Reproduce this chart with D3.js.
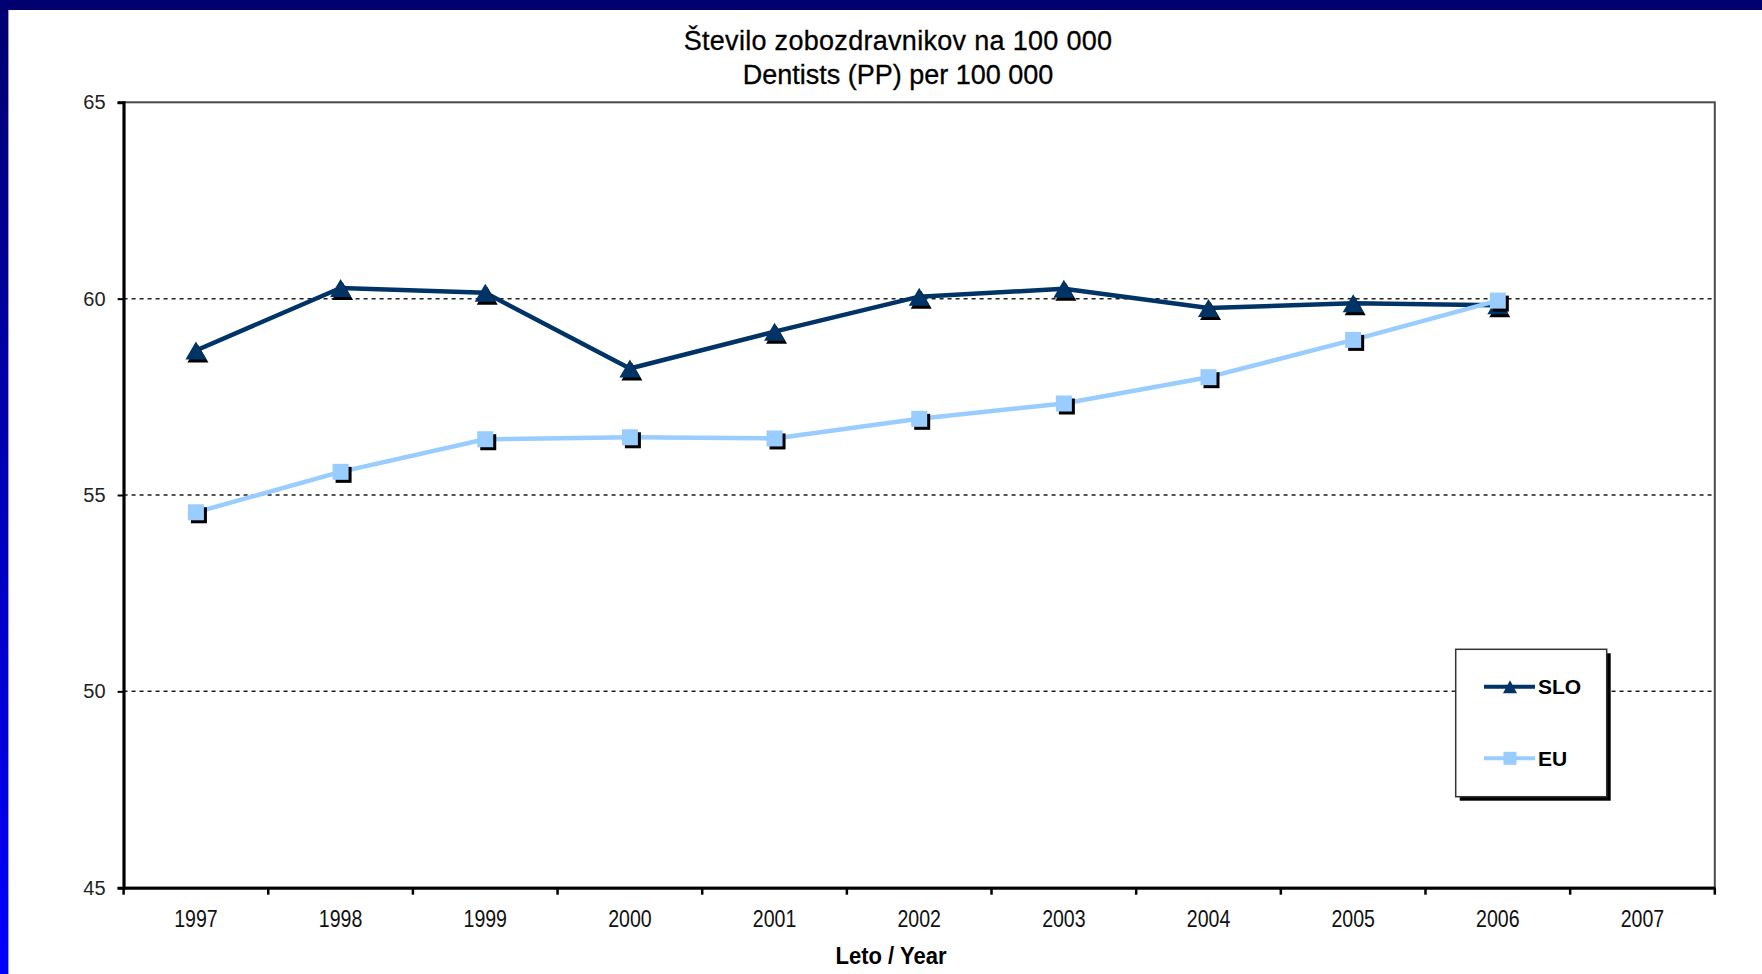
<!DOCTYPE html>
<html><head><meta charset="utf-8">
<script src="https://cdn.jsdelivr.net/npm/d3@7/dist/d3.min.js"></script>
<style>html,body{margin:0;padding:0;background:#fff;overflow:hidden}</style>
</head><body>
<svg id="c" width="1762" height="974" xmlns="http://www.w3.org/2000/svg"></svg>
<script>
// ---- data ----
const years = ["1997","1998","1999","2000","2001","2002","2003","2004","2005","2006","2007"];
const sloValues = [58.68, 60.27, 60.15, 58.22, 59.16, 60.05, 60.25, 59.76, 59.88, 59.83];
const euValues  = [54.56, 55.59, 56.42, 56.47, 56.44, 56.94, 57.33, 58.00, 58.95, 59.95];
const yTicks = [45, 50, 55, 60, 65];
const gridValues = [50, 55, 60];
const titleLines = ["Število zobozdravnikov na 100 000", "Dentists (PP) per 100 000"];
const xTitle = "Leto / Year";
const seriesNames = ["SLO", "EU"];

// ---- layout ----
const W = 1762, H = 974;
const L = 123.6, R = 1714.8, T = 102.3, B = 887.7;
const SLO_COLOR = "#003366", EU_COLOR = "#99CCFF";
const FONT = "'Liberation Sans', Arial, sans-serif";

const svg = d3.select("#c");
const defs = svg.append("defs");
const grad = defs.append("linearGradient").attr("id","lg").attr("x1",0).attr("y1",0).attr("x2",0).attr("y2",1);
grad.append("stop").attr("offset","0%").attr("stop-color","#000070");
grad.append("stop").attr("offset","100%").attr("stop-color","#0000FF");

svg.append("rect").attr("width",W).attr("height",H).attr("fill","#fff");
svg.append("rect").attr("x",0).attr("y",0).attr("width",8.4).attr("height",H).attr("fill","url(#lg)");
svg.append("rect").attr("x",0).attr("y",0).attr("width",W).attr("height",10).attr("fill","#000070");

const x = d3.scaleBand().domain(years).range([L, R]).padding(0);
const y = d3.scaleLinear().domain([45, 65]).range([B, T]);
const cx = d => x(d) + x.bandwidth() / 2;

// title
svg.append("g").selectAll("text").data(titleLines).join("text")
  .attr("x", 898).attr("y", (d,i) => 50 + i * 34)
  .attr("text-anchor","middle").attr("font-family",FONT).attr("font-size",27)
  .attr("letter-spacing",(d,i) => i === 0 ? 0.3 : 0)
  .attr("fill","#000").attr("stroke","#000").attr("stroke-width",0.3).text(d => d);

// gridlines
svg.append("g").selectAll("line").data(gridValues).join("line")
  .attr("x1", L).attr("x2", R).attr("y1", d => y(d)).attr("y2", d => y(d))
  .attr("stroke","#222").attr("stroke-width",1.5).attr("stroke-dasharray","4,4");

// plot frame (top/right)
svg.append("rect").attr("x",L).attr("y",T).attr("width",R-L).attr("height",B-T)
  .attr("fill","none").attr("stroke","#4a4a4a").attr("stroke-width",2);

// y axis
const yAxis = svg.append("g").attr("transform",`translate(${L},0)`)
  .call(d3.axisLeft(y).tickValues(yTicks).tickSize(6).tickPadding(12).tickFormat(d3.format("d")));
yAxis.select(".domain").attr("stroke","#000").attr("stroke-width",3);
yAxis.selectAll(".tick line").attr("stroke","#000").attr("stroke-width",2);
yAxis.selectAll("text").attr("font-family",FONT).attr("font-size",20).attr("fill","#222");

// x axis: labels
const xAxis = svg.append("g").attr("transform",`translate(0,${B})`)
  .call(d3.axisBottom(x).tickSize(0).tickSizeOuter(0));
xAxis.select(".domain").attr("stroke","#000").attr("stroke-width",3);
xAxis.selectAll("text").attr("font-family",FONT).attr("font-size",23).attr("fill","#111")
  .attr("y",39).attr("dy",0).attr("transform","scale(0.85,1)");
// x axis: boundary ticks between categories
const boundaries = years.map(d => x(d)).concat([x.range()[1]]);
svg.append("g").selectAll("line").data(boundaries).join("line")
  .attr("x1", d => d).attr("x2", d => d).attr("y1", B).attr("y2", B + 7)
  .attr("stroke","#000").attr("stroke-width",2.5);

// x title
svg.append("text").attr("transform","translate(891,964) scale(0.9,1)")
  .attr("text-anchor","middle").attr("font-family",FONT).attr("font-size",24.5)
  .attr("font-weight","bold").attr("fill","#000").text(xTitle);

// shapes
function triPath(w, h) {
  const p = d3.path();
  p.moveTo(0, -h/2); p.lineTo(w/2, h/2); p.lineTo(-w/2, h/2); p.closePath();
  return p.toString();
}
const line = d3.line().x((d,i) => cx(years[i])).y(d => y(d));
const TW = 21, TH = 18, SQ = 16;

// SLO series
const gS = svg.append("g");
gS.append("path").datum(sloValues).attr("d", line).attr("fill","none")
  .attr("stroke",SLO_COLOR).attr("stroke-width",4.5).attr("stroke-linejoin","round");
gS.selectAll(".sh").data(sloValues).join("path").attr("class","sh")
  .attr("d", triPath(TW,TH)).attr("transform",(d,i)=>`translate(${cx(years[i])+2},${y(d)+3})`).attr("fill","#000");
gS.selectAll(".mk").data(sloValues).join("path").attr("class","mk")
  .attr("d", triPath(TW,TH)).attr("transform",(d,i)=>`translate(${cx(years[i])},${y(d)})`).attr("fill",SLO_COLOR);

// EU series
const gE = svg.append("g");
gE.append("path").datum(euValues).attr("d", line).attr("fill","none")
  .attr("stroke",EU_COLOR).attr("stroke-width",4.5).attr("stroke-linejoin","round");
gE.selectAll(".sh").data(euValues).join("rect").attr("class","sh")
  .attr("x",(d,i)=>cx(years[i])-SQ/2+3).attr("y",d=>y(d)-SQ/2+3).attr("width",SQ).attr("height",SQ).attr("fill","#000");
gE.selectAll(".mk").data(euValues).join("rect").attr("class","mk")
  .attr("x",(d,i)=>cx(years[i])-SQ/2).attr("y",d=>y(d)-SQ/2).attr("width",SQ).attr("height",SQ).attr("fill",EU_COLOR);

// legend
const lg = svg.append("g");
const lx = 1455.7, ly = 649.3, lw = 151, lh = 147.4;
lg.append("rect").attr("x",lx+4).attr("y",ly+4).attr("width",lw).attr("height",lh).attr("fill","#000");
lg.append("rect").attr("x",lx).attr("y",ly).attr("width",lw).attr("height",lh)
  .attr("fill","#fff").attr("stroke","#333").attr("stroke-width",1.5);
const rows = [{name: seriesNames[0], color: SLO_COLOR, yy: 686.7, type: "tri"},
              {name: seriesNames[1], color: EU_COLOR, yy: 758.3, type: "sq"}];
rows.forEach(r => {
  lg.append("line").attr("x1",1484).attr("x2",1535).attr("y1",r.yy).attr("y2",r.yy)
    .attr("stroke",r.color).attr("stroke-width",4);
  if (r.type === "tri") {
    lg.append("path").attr("d",triPath(14,13)).attr("transform",`translate(1510,${r.yy})`).attr("fill",r.color);
  } else {
    lg.append("rect").attr("x",1510-6.5).attr("y",r.yy-6.5).attr("width",13).attr("height",13).attr("fill",r.color);
  }
  lg.append("text").attr("x",1538).attr("y",r.yy+7.5).attr("font-family",FONT).attr("font-size",21)
    .attr("font-weight","bold").attr("fill","#000").text(r.name);
});
</script>
</body></html>
